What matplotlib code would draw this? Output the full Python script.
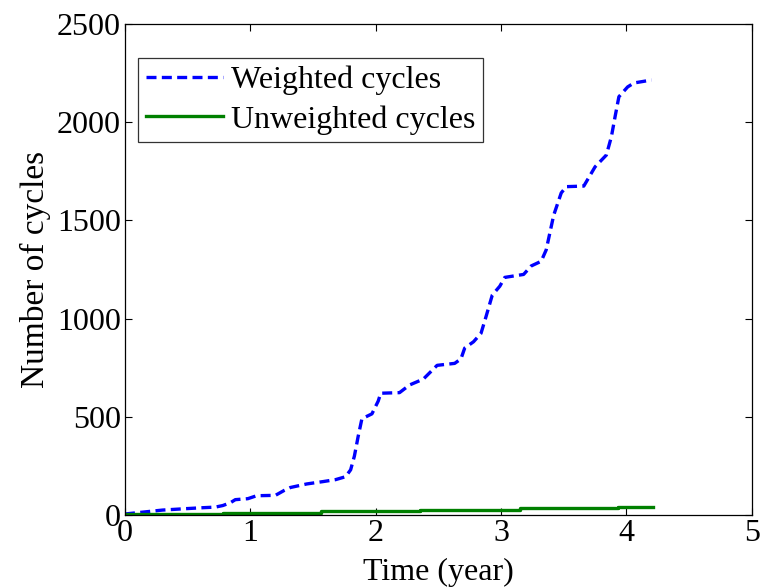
import matplotlib
matplotlib.use('Agg')
import matplotlib.pyplot as plt

# weighted cycles (blue dashed)
t_weighted = [0, 0.15, 0.30, 0.48, 0.62, 0.72, 0.78, 0.84, 0.88, 0.98, 1.05, 1.20,
              1.27, 1.32, 1.45, 1.58, 1.68, 1.76, 1.80, 1.83, 1.86, 1.89, 1.97,
              2.02, 2.04, 2.19, 2.27, 2.38, 2.49, 2.63, 2.68, 2.71, 2.78, 2.84,
              2.88, 2.93, 2.99, 3.03, 3.18, 3.24, 3.32, 3.36, 3.42, 3.48, 3.52,
              3.66, 3.75, 3.84, 3.88, 3.91, 3.94, 4.01, 4.06, 4.20]
n_weighted = [5, 15, 25, 32, 37, 40, 48, 62, 78, 83, 98, 100,
              125, 140, 158, 170, 180, 195, 230, 300, 400, 490, 515,
              580, 620, 623, 662, 692, 762, 772, 795, 850, 882, 925,
              1010, 1120, 1165, 1210, 1225, 1268, 1292, 1350, 1527, 1640, 1672,
              1675, 1773, 1833, 1926, 2030, 2130, 2180, 2200, 2215]

# unweighted cycles (green), step curve
t_unweighted = [0, 0.78, 1.56, 2.35, 3.15, 3.93, 4.21]
n_unweighted = [6, 12, 18, 26, 34, 41, 41]

x_ticks = [0, 1, 2, 3, 4, 5]
y_ticks = [0, 500, 1000, 1500, 2000, 2500]

plt.rcParams['font.family'] = ['Liberation Serif', 'DejaVu Serif']

fig = plt.figure(figsize=(7.64, 5.87), dpi=100)
ax = fig.add_axes([0.1636, 0.1227, 0.8204, 0.8363])

ax.plot(t_weighted, n_weighted, color='#0000ff', linestyle='--', linewidth=2.4,
        dashes=(3, 1.6), label='Weighted cycles')
ax.step(t_unweighted, n_unweighted, where='post', color='#008000', linewidth=2.4,
        label='Unweighted cycles')

ax.set_xlim(0, 5)
ax.set_ylim(0, 2500)
ax.set_xticks(x_ticks)
ax.set_yticks(y_ticks)
ax.tick_params(direction='in', length=5, width=0.8, top=True, right=True,
               labelsize=23, pad=3)
for s in ax.spines.values():
    s.set_linewidth(0.9)

ax.set_xlabel('Time (year)', fontsize=23, labelpad=7)
ax.set_ylabel('Number of cycles', fontsize=24, labelpad=4)

leg = ax.legend(loc='upper left', bbox_to_anchor=(0.021, 0.931), fontsize=23,
                frameon=True, fancybox=False, handlelength=2.4, handletextpad=0.25,
                borderpad=0.25, labelspacing=0.3, borderaxespad=0)
leg.get_frame().set_edgecolor('black')
leg.get_frame().set_linewidth(0.9)

fig.savefig('out.png', dpi=100)
